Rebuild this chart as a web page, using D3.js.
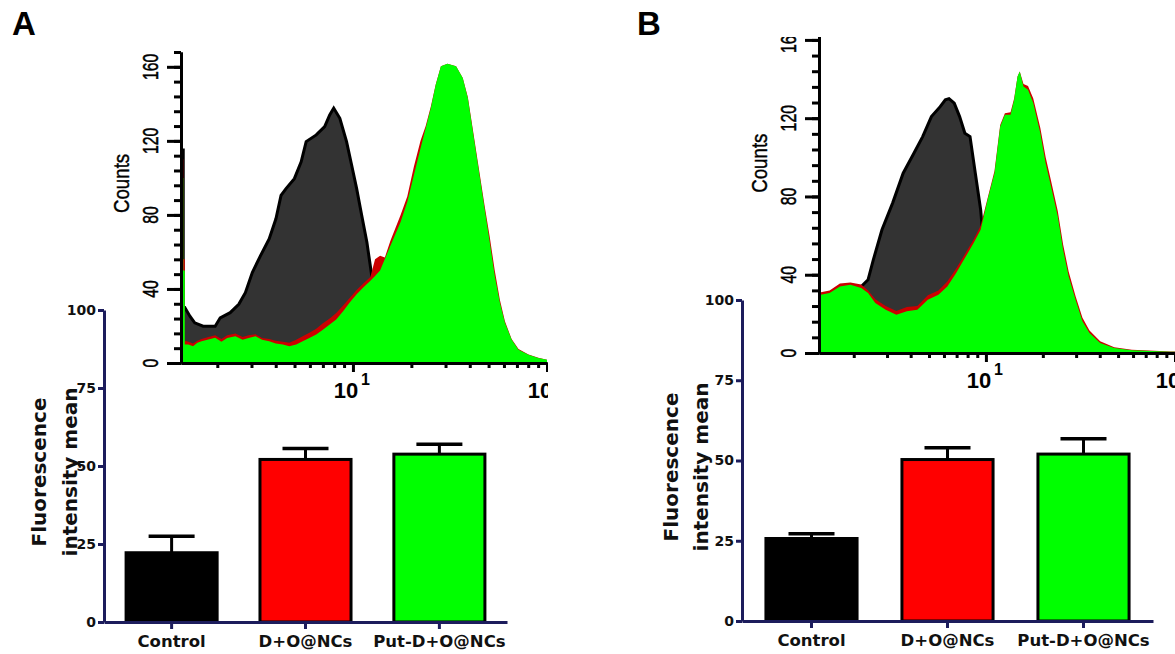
<!DOCTYPE html>
<html>
<head>
<meta charset="utf-8">
<script src="https://cdn.jsdelivr.net/npm/d3@7"></script>
<style>
body { margin: 0; background: #fff; }
svg { display: block; }
</style>
</head>
<body>
<svg width="1175" height="654"></svg>
<script>
// bar chart values
var categories = ["Control", "D+O@NCs", "Put-D+O@NCs"];
var barColors = ["#000000", "#ff0000", "#00ff00"];
var meanA = [22.2, 52.1, 53.8];
var semA = [5.3, 3.5, 3.2];
var meanB = [25.7, 50.3, 52.0];
var semB = [1.5, 3.7, 4.8];
var barTicks = [0, 25, 50, 75, 100];

// histogram axes
var countTicks = [0, 40, 80, 120, 160];
var countLabels = ["0", "40", "80", "120", "160"];
var countMinor = [0, 8, 16, 24, 32, 40, 48, 56, 64, 72, 80, 88, 96, 104, 112, 120, 128, 136, 144, 152, 160, 168];
var logMajor = [10, 100];
var logExp = ["1", "2"];
var logMinor = [2, 3, 4, 5, 6, 7, 8, 9, 20, 30, 40, 50, 60, 70, 80, 90];

// histogram A: [intensity, counts]
var histA_control = [[1.30,115],[1.335,115],[1.335,30],[1.36,30],[1.445,25.3],[1.53,21.7],[1.69,19.9],[1.95,19.9],[2.07,24.4],[2.33,27.2],[2.58,31.7],[2.79,38],[3.03,48.9],[3.34,58],[3.70,67],[4.01,77.9],[4.26,90.5],[4.52,94.2],[4.99,99.6],[5.41,108.7],[5.74,119.6],[6.47,123.2],[7.15,127.7],[7.59,134],[7.96,137.7],[8.56,132.2],[9.27,119.6],[9.85,106.8],[10.45,94.2],[11.1,79.7],[11.8,65.2],[12.5,47.1],[12.9,43.5],[14,30],[16,15],[19,5],[23,1],[28,0]];
var histA_red = [[1.30,110],[1.335,110],[1.335,56],[1.36,56],[1.36,12],[1.42,11.5],[1.50,10.5],[1.58,12],[1.66,13],[1.80,14],[1.95,15],[2.1,13],[2.25,15],[2.48,16],[2.7,14],[2.9,15],[3.15,15.5],[3.4,13.5],[3.70,13],[4.0,12],[4.35,11.5],[4.70,11],[5.1,12.5],[5.51,14.5],[6.0,16.5],[6.47,18.5],[7.0,21.5],[7.59,24],[8.2,27],[8.90,31],[9.6,35],[10.45,39.5],[11.3,43],[12.3,46.5],[13.0,56],[13.8,58],[14.6,57],[15.6,66],[17.6,80],[19.05,90],[20.6,106],[22.3,120],[23.7,128],[25.2,138.5],[26.7,150.5],[28.4,160.3],[30.7,161.6],[34.0,160.3],[36.8,154],[39.1,143.5],[41.5,126],[44.1,108],[47.7,85],[50.7,68],[53.8,50],[57.2,34],[60.7,22.5],[65.7,13],[71.3,7.5],[80.3,4.6],[90.2,2.8],[100,1.8]];
var histA_green = [[1.30,100],[1.335,100],[1.335,50],[1.36,50],[1.36,10],[1.42,10],[1.50,9],[1.58,11],[1.66,11.8],[1.80,12.7],[1.95,13.6],[2.1,11.5],[2.25,13.5],[2.48,14.5],[2.7,12.5],[2.9,13.5],[3.15,14.5],[3.4,12.5],[3.70,11.8],[4.0,10.5],[4.35,10],[4.70,9],[5.1,10],[5.51,11.8],[6.0,13.6],[6.47,15.4],[7.0,18],[7.59,20.8],[8.2,23.5],[8.90,28],[9.6,32.6],[10.45,37.1],[11.3,40.8],[12.3,44.4],[13.0,47],[13.8,50],[15.6,63.4],[17.6,76.1],[19.05,87],[20.6,101.4],[22.3,116],[23.7,126.8],[25.2,137.7],[26.7,150.3],[28.4,160.3],[30.7,161.6],[34.0,160.3],[36.8,154],[39.1,143],[41.5,125],[44.1,106.8],[47.7,83.3],[50.7,65.2],[53.8,47.1],[57.2,32.6],[60.7,21.7],[65.7,12.7],[71.3,7.2],[80.3,4.5],[90.2,2.7],[100,1.8]];

// histogram B: [intensity, counts]
var histB_control = [[1.31,28],[1.6,30],[1.9,31],[2.10,33],[2.19,34],[2.38,37.4],[2.54,47.7],[2.82,63],[3.21,76.6],[3.65,91.9],[4.16,102.1],[4.63,110.6],[5.15,120.8],[5.73,125.9],[6.10,129.4],[6.38,130],[6.80,127.7],[7.26,120.8],[7.74,112.3],[8.24,110.6],[8.79,91.9],[9.38,73.2],[9.58,63],[10.5,45],[11.5,28],[12.5,12],[14,3],[16,0]];
var histB_red = [[1.31,31],[1.34,31],[1.49,32],[1.69,35.5],[1.92,36],[2.19,35],[2.38,32],[2.60,27.5],[2.95,24],[3.36,21.5],[3.82,23.5],[4.34,24],[4.93,29.5],[5.61,32],[6.25,36.5],[6.95,43],[7.74,50.5],[8.61,58],[9.38,65],[10.2,79],[11.1,93],[11.9,116.5],[12.6,122.5],[13.5,123],[14.1,130],[14.7,141.3],[15.1,143.8],[15.8,137.5],[16.7,136.5],[17.8,130],[19.4,115],[20.7,100],[22.1,88],[24.0,72.5],[25.6,55.5],[27.4,41.5],[29.8,29],[32.4,18],[35.3,11.5],[40.2,6],[47.7,3],[59.1,1.6],[94.6,0.8],[110,0.8]];
var histB_green = [[1.31,29.8],[1.34,29.8],[1.49,30.6],[1.69,34],[1.92,34.9],[2.19,33.2],[2.38,30.6],[2.60,25.5],[2.95,22.1],[3.36,19.6],[3.82,21.3],[4.34,22.1],[4.93,27.2],[5.61,29.8],[6.25,34],[6.95,40.8],[7.74,48.5],[8.61,56.2],[9.38,63],[10.2,78.3],[11.1,91.9],[11.9,115.7],[12.6,121.7],[13.5,121.7],[14.1,129.4],[14.7,141.3],[15.1,143.8],[15.8,136.2],[16.7,134.5],[17.8,127.7],[19.4,112.3],[20.7,97],[22.1,85.1],[24.0,69.8],[25.6,52.8],[27.4,39.1],[29.8,27.2],[32.4,16.2],[35.3,10.2],[40.2,5.1],[47.7,2.6],[59.1,1.4],[94.6,0.7],[110,0.7]];

var svg = d3.select("svg");
var defs = svg.append("defs");
defs.append("clipPath").attr("id", "clipA")
  .append("rect").attr("x", 0).attr("y", 0).attr("width", 548).attr("height", 654);
defs.append("clipPath").attr("id", "clipB")
  .append("rect").attr("x", 600).attr("y", 37).attr("width", 575).attr("height", 617);

var boldFont = "'DejaVu Sans', sans-serif";
var narrowFont = "'Liberation Sans', Arial, sans-serif";

function drawBars(o) {
  var x = d3.scaleBand().domain(categories).range(o.xRange)
    .paddingInner(o.pi).paddingOuter(o.po);
  var y = d3.scaleLinear().domain([0, 100]).range(o.yRange);
  var g = svg.append("g");

  // error bars (upper whisker only shows)
  g.selectAll(".err").data(o.means).enter().append("line")
    .attr("x1", function(d, i) { return x(categories[i]) + x.bandwidth() / 2; })
    .attr("x2", function(d, i) { return x(categories[i]) + x.bandwidth() / 2; })
    .attr("y1", function(d) { return y(d); })
    .attr("y2", function(d, i) { return y(d + o.sems[i]); })
    .attr("stroke", "#000").attr("stroke-width", 3);
  g.selectAll(".cap").data(o.means).enter().append("line")
    .attr("x1", function(d, i) { return x(categories[i]) + x.bandwidth() / 2 - 23; })
    .attr("x2", function(d, i) { return x(categories[i]) + x.bandwidth() / 2 + 23; })
    .attr("y1", function(d, i) { return y(d + o.sems[i]); })
    .attr("y2", function(d, i) { return y(d + o.sems[i]); })
    .attr("stroke", "#000").attr("stroke-width", 3.5);

  g.selectAll(".bar").data(o.means).enter().append("rect")
    .attr("x", function(d, i) { return x(categories[i]); })
    .attr("y", function(d) { return y(d); })
    .attr("width", x.bandwidth())
    .attr("height", function(d) { return y(0) - y(d); })
    .attr("fill", function(d, i) { return barColors[i]; })
    .attr("stroke", "#000").attr("stroke-width", 3);

  var ya = g.append("g")
    .attr("transform", "translate(" + o.xRange[0] + ",0)")
    .call(d3.axisLeft(y).tickValues(barTicks).tickSize(6).tickSizeOuter(0));
  var xa = g.append("g")
    .attr("transform", "translate(0," + y(0) + ")")
    .call(d3.axisBottom(x).tickSize(7).tickSizeOuter(0));
  [ya, xa].forEach(function(a) {
    a.selectAll("path, line").attr("stroke", "#1c1c5c").attr("stroke-width", 3);
  });
  ya.selectAll("text").attr("font-family", boldFont).attr("font-weight", "bold")
    .attr("font-size", 14).attr("fill", "#111").attr("x", -8);
  xa.selectAll("text").attr("font-family", boldFont).attr("font-weight", "bold")
    .attr("font-size", 16.5).attr("fill", "#111").attr("y", 13);

  // y title on two lines
  [["Fluorescence", o.titleX[0]], ["intensity mean", o.titleX[1]]].forEach(function(t) {
    g.append("text")
      .attr("transform", "translate(" + t[1] + "," + o.titleY + ") rotate(-90)")
      .attr("text-anchor", "middle")
      .attr("font-family", boldFont).attr("font-weight", "bold")
      .attr("font-size", 20).attr("fill", "#111")
      .text(t[0]);
  });
}

function drawHist(o) {
  var x = d3.scaleLog().domain(o.xDomain).range(o.xRange);
  var y = d3.scaleLinear().domain(o.yDomain).range(o.yRange);
  var g = svg.append("g").attr("clip-path", "url(#" + o.clip + ")");

  var area = d3.area()
    .x(function(d) { return x(d[0]); })
    .y0(y(0))
    .y1(function(d) { return y(d[1]); });
  var line = d3.line()
    .x(function(d) { return x(d[0]); })
    .y(function(d) { return y(d[1]); });

  g.append("path").datum(o.control).attr("d", area).attr("fill", "#333333");
  g.append("path").datum(o.control).attr("d", line)
    .attr("fill", "none").attr("stroke", "#000").attr("stroke-width", 3);
  g.append("path").datum(o.red).attr("d", area).attr("fill", "#cc0000");
  g.append("path").datum(o.green).attr("d", area).attr("fill", "#00ff00");

  var axes = [];
  axes.push(g.append("g").attr("transform", "translate(" + o.xRange[0] + ",0)")
    .call(d3.axisLeft(y).tickValues(countMinor).tickSize(7).tickSizeOuter(0).tickFormat("")));
  axes.push(g.append("g").attr("transform", "translate(" + o.xRange[0] + ",0)")
    .call(d3.axisLeft(y).tickValues(countTicks).tickSize(14).tickSizeOuter(0).tickFormat("")));
  axes.push(g.append("g").attr("transform", "translate(0," + y(0) + ")")
    .call(d3.axisBottom(x).tickValues(logMinor).tickSize(5).tickSizeOuter(0).tickFormat("")));
  axes.push(g.append("g").attr("transform", "translate(0," + y(0) + ")")
    .call(d3.axisBottom(x).tickValues(logMajor).tickSize(9).tickSizeOuter(0).tickFormat("")));
  axes.forEach(function(a) {
    a.selectAll("path, line").attr("stroke", "#000").attr("stroke-width", 3);
  });

  // rotated, narrow count labels
  countTicks.forEach(function(t, i) {
    g.append("text")
      .attr("transform", "translate(" + (o.xRange[0] - 23) + "," + y(t) + ") rotate(-90) scale(0.72,1)")
      .attr("text-anchor", "middle")
      .attr("font-family", narrowFont).attr("font-size", 22).attr("fill", "#000")
      .attr("stroke", "#000").attr("stroke-width", 0.5)
      .text(countLabels[i]);
  });
  g.append("text")
    .attr("transform", "translate(" + (o.xRange[0] - 52) + "," + y(97) + ") rotate(-90) scale(0.85,1)")
    .attr("text-anchor", "middle")
    .attr("font-family", narrowFont).attr("font-size", 22).attr("fill", "#000")
    .attr("stroke", "#000").attr("stroke-width", 0.4)
    .text("Counts");

  logMajor.forEach(function(v, i) {
    g.append("text")
      .attr("x", x(v) - 7).attr("y", y(0) + 35)
      .attr("text-anchor", "middle")
      .attr("font-family", narrowFont).attr("font-weight", "bold")
      .attr("font-size", 22).attr("fill", "#000")
      .text("10");
    g.append("text")
      .attr("x", x(v) + 8).attr("y", y(0) + 22)
      .attr("font-family", narrowFont).attr("font-weight", "bold")
      .attr("font-size", 16).attr("fill", "#000")
      .text(logExp[i]);
  });
}

drawBars({ xRange: [104, 507], yRange: [622, 310], pi: 0.32, po: 0.165,
  means: meanA, sems: semA, titleX: [46, 77], titleY: 472 });
drawBars({ xRange: [742, 1153], yRange: [621, 300], pi: 0.33, po: 0.176,
  means: meanB, sems: semB, titleX: [678, 708], titleY: 467 });

drawHist({ clip: "clipA", xDomain: [1.3, 100], xRange: [181, 547],
  yDomain: [0, 168], yRange: [363, 52],
  control: histA_control, red: histA_red, green: histA_green });
drawHist({ clip: "clipB", xDomain: [1.31, 100], xRange: [819, 1175],
  yDomain: [0, 162], yRange: [353, 36],
  control: histB_control, red: histB_red, green: histB_green });

svg.append("text").attr("x", 12).attr("y", 35)
  .attr("font-family", narrowFont).attr("font-weight", "bold").attr("font-size", 33)
  .text("A");
svg.append("text").attr("x", 637).attr("y", 35)
  .attr("font-family", narrowFont).attr("font-weight", "bold").attr("font-size", 33)
  .text("B");
</script>
</body>
</html>
